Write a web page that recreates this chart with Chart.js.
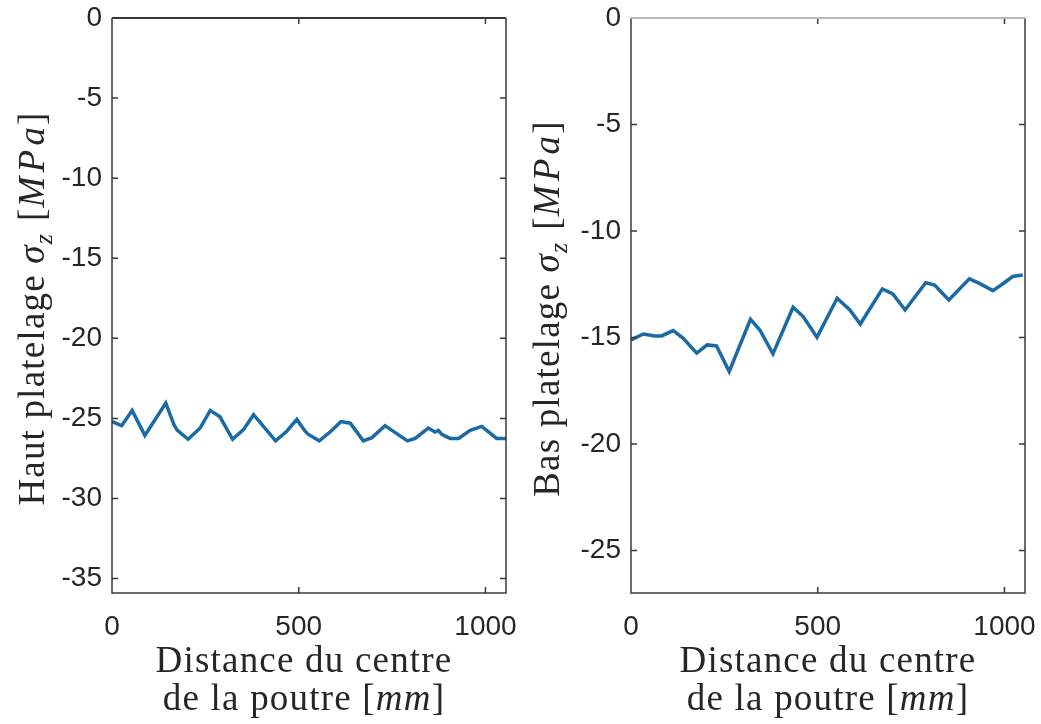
<!DOCTYPE html>
<html lang="fr">
<head>
    <meta charset="UTF-8">
    <title>Contraintes platelage</title>
    <style>
        body { margin: 0; background: #fff; }
        .panel { position: absolute; top: 0; height: 724px; }
    </style>
</head>
<body>
    <div class="panel" style="left: 0; width: 520px;"><canvas id="chartHaut" width="520" height="724"></canvas></div>
    <div class="panel" style="left: 520px; width: 521px;"><canvas id="chartBas" width="521" height="724"></canvas></div>
    <script src="https://cdn.jsdelivr.net/npm/chart.js"></script>
    <script>
        // distance from the beam centre [mm] and sigma_z [MPa]
        const distHaut = [0, 26, 54, 88, 144, 166, 175, 204, 236, 263, 289, 323, 352, 379, 438, 468, 495, 517, 526, 555,
                          584, 613, 638, 673, 696, 731, 791, 812, 847, 865, 874, 883, 905, 928, 959, 990, 1030, 1055];
        const sigmaHaut = [-25.2, -25.45, -24.5, -26.06, -24.04, -25.4, -25.75, -26.3, -25.6, -24.5, -24.9, -26.3, -25.7, -24.77,
                           -26.4, -25.8, -25.06, -25.8, -26.0, -26.4, -25.85, -25.2, -25.3, -26.4, -26.2, -25.45, -26.4, -26.25,
                           -25.6, -25.85, -25.75, -26.0, -26.25, -26.25, -25.75, -25.5, -26.25, -26.25];

        const distBas = [0, 33, 64, 82, 113, 140, 176, 204, 229, 263, 320, 345, 380, 434, 461, 498, 552, 586, 614, 673,
                         701, 734, 789, 813, 851, 906, 933, 969, 995, 1022, 1049];
        const sigmaBas = [-15.12, -14.84, -14.93, -14.93, -14.68, -15.04, -15.74, -15.35, -15.4, -16.6, -14.15, -14.65, -15.77,
                          -13.58, -14.02, -14.99, -13.16, -13.71, -14.37, -12.72, -12.96, -13.71, -12.43, -12.54, -13.24, -12.25,
                          -12.46, -12.8, -12.49, -12.14, -12.07];

        const xTicks = [0, 500, 1000];
        const yTicksHaut = [0, -5, -10, -15, -20, -25, -30, -35];
        const yTicksBas = [0, -5, -10, -15, -20, -25];

        const lineColor = '#1a6aa5';
        const axisColor = '#3a3a3a';
        const tickFont = { family: '"Liberation Sans", Arial, sans-serif', size: 28 };
        const serif = '"Liberation Serif", "Times New Roman", serif';
        const titleSize = 37;
        const titleSpacing = '1.2px';

        // draws a run of text pieces (roman / italic / subscript) centred on cx, baseline y
        function richWidth(ctx, segs, size) {
            let w = 0;
            segs.forEach(s => {
                ctx.font = (s.it ? 'italic ' : '') + (s.sub ? size * 0.7 : size) + 'px ' + serif;
                w += ctx.measureText(s.t).width + (s.gap || 0);
            });
            return w;
        }
        function drawRich(ctx, segs, cx, y, size) {
            ctx.letterSpacing = titleSpacing;
            let x = cx - richWidth(ctx, segs, size) / 2;
            segs.forEach(s => {
                const fs = s.sub ? size * 0.7 : size;
                ctx.font = (s.it ? 'italic ' : '') + fs + 'px ' + serif;
                ctx.fillText(s.t, x, y + (s.sub ? size * 0.22 : 0));
                x += ctx.measureText(s.t).width + (s.gap || 0);
            });
        }

        const boxPlugin = {
            id: 'boxPlugin',
            afterDatasetsDraw(chart, args, opts) {
                const ctx = chart.ctx;
                const a = chart.chartArea;
                const x = chart.scales.x, y = chart.scales.y;
                ctx.save();
                ctx.strokeStyle = axisColor;
                ctx.lineWidth = 1.5;
                ctx.beginPath();
                xTicks.forEach(v => {
                    const px = x.getPixelForValue(v);
                    ctx.moveTo(px, a.bottom); ctx.lineTo(px, a.bottom - 6);
                    ctx.moveTo(px, a.top); ctx.lineTo(px, a.top + 6);
                });
                opts.yTicks.forEach(v => {
                    const py = y.getPixelForValue(v);
                    ctx.moveTo(a.left, py); ctx.lineTo(a.left + 6, py);
                    ctx.moveTo(a.right, py); ctx.lineTo(a.right - 6, py);
                });
                ctx.moveTo(a.left, a.top); ctx.lineTo(a.left, a.bottom);
                ctx.lineTo(a.right, a.bottom); ctx.lineTo(a.right, a.top);
                ctx.stroke();
                ctx.beginPath();
                ctx.strokeStyle = opts.topColor;
                ctx.lineWidth = 2;
                ctx.moveTo(a.left, a.top); ctx.lineTo(a.right, a.top);
                ctx.stroke();

                // axis titles
                ctx.fillStyle = '#262626';
                ctx.textAlign = 'left';
                ctx.textBaseline = 'alphabetic';
                const mid = (a.left + a.right) / 2 + opts.xTitleShift;
                drawRich(ctx, [{ t: 'Distance du centre' }], mid, 672, titleSize);
                drawRich(ctx, [{ t: 'de la poutre [' }, { t: 'mm', it: true }, { t: ']' }], mid, 710, titleSize);

                ctx.translate(opts.yTitleX, (a.top + a.bottom) / 2 + 3);
                ctx.rotate(-Math.PI / 2);
                drawRich(ctx, [
                    { t: opts.yTitle + ' platelage ' },
                    { t: 'σ', it: true },
                    { t: 'z', it: true, sub: true, gap: 12 },
                    { t: '[' }, { t: 'M', it: true, gap: 3 }, { t: 'P', it: true, gap: 3 }, { t: 'a', it: true, gap: 1 }, { t: ']' }
                ], 0, 0, titleSize);
                ctx.restore();
            }
        };

        function makeChart(id, dist, sigma, yMin, yTicks, padRight, axisW, yTitle, yTitleX, topColor, xTitleShift) {
            const pts = dist.map((d, i) => ({ x: d, y: sigma[i] }));
            return new Chart(document.getElementById(id), {
                type: 'line',
                data: {
                    datasets: [{
                        data: pts,
                        borderColor: lineColor,
                        borderWidth: 3.5,
                        pointRadius: 0,
                        tension: 0,
                        fill: false
                    }]
                },
                options: {
                    responsive: false,
                    animation: false,
                    layout: { padding: { top: 18, right: padRight, left: 0, bottom: 0 } },
                    plugins: {
                        legend: { display: false },
                        tooltip: { enabled: false },
                        boxPlugin: { yTicks: yTicks, yTitle: yTitle, yTitleX: yTitleX, topColor: topColor, xTitleShift: xTitleShift }
                    },
                    scales: {
                        x: {
                            type: 'linear',
                            min: 0,
                            max: 1055,
                            grid: { display: false, drawTicks: false },
                            border: { display: false },
                            afterBuildTicks: s => { s.ticks = xTicks.map(v => ({ value: v })); },
                            afterFit: s => { s.height = 131; s.paddingLeft = 0; s.paddingRight = 0; },
                            ticks: { color: '#262626', font: tickFont, padding: 17, maxRotation: 0, callback: v => String(v) }
                        },
                        y: {
                            type: 'linear',
                            min: yMin,
                            max: 0,
                            grid: { display: false, drawTicks: false },
                            border: { display: false },
                            afterBuildTicks: s => { s.ticks = yTicks.map(v => ({ value: v })); },
                            afterFit: s => { s.width = axisW; s.paddingTop = 0; s.paddingBottom = 0; },
                            ticks: { color: '#262626', font: tickFont, padding: 10, callback: v => String(v) }
                        }
                    }
                },
                plugins: [boxPlugin]
            });
        }

        makeChart('chartHaut', distHaut, sigmaHaut, -35.9, yTicksHaut, 14, 112, 'Haut', 44, axisColor, -5);
        makeChart('chartBas', distBas, sigmaBas, -27, yTicksBas, 16, 111, 'Bas', 39, '#b8b8b8', 0);
    </script>
</body>
</html>
